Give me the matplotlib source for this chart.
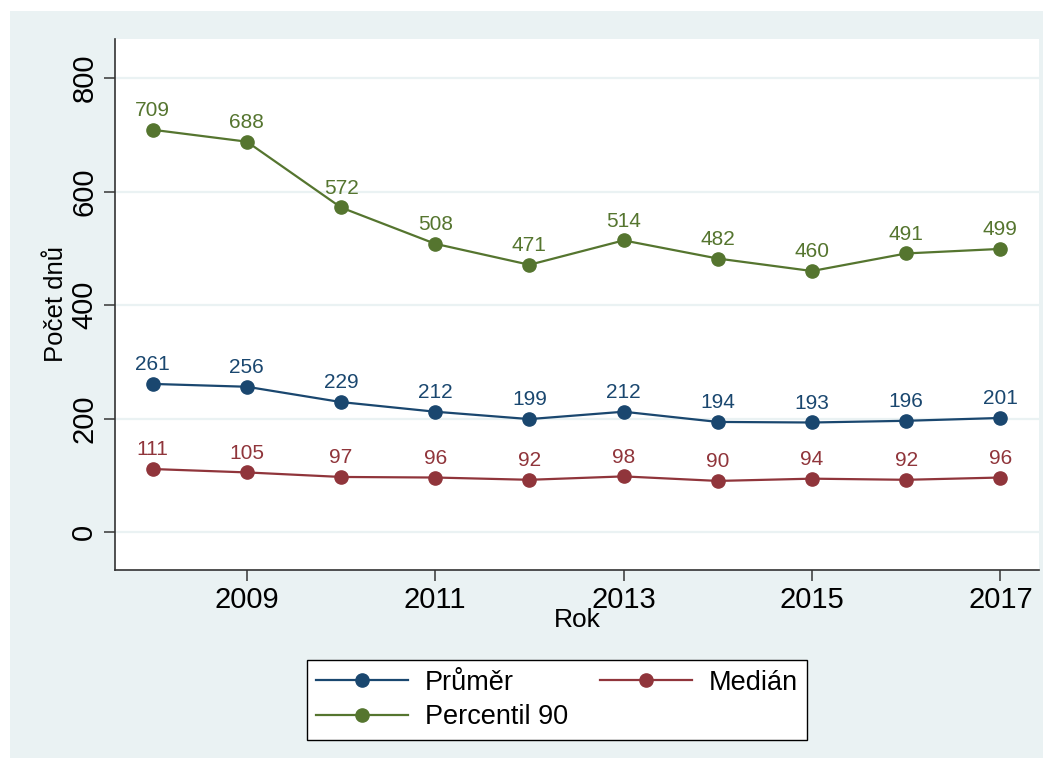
import matplotlib.pyplot as plt
from matplotlib.patches import Rectangle

# Data
years = [2008, 2009, 2010, 2011, 2012, 2013, 2014, 2015, 2016, 2017]
prumer = [261, 256, 229, 212, 199, 212, 194, 193, 196, 201]
median = [111, 105, 97, 96, 92, 98, 90, 94, 92, 96]
percentil90 = [709, 688, 572, 508, 471, 514, 482, 460, 491, 499]

series_names = ["Průměr", "Medián", "Percentil 90"]
y_ticks = [0, 200, 400, 600, 800]
x_ticks = [2009, 2011, 2013, 2015, 2017]

# Stata s2color-like styling
BG = "#eaf2f3"
COLORS = ["#1a476f", "#90353b", "#55752f"]

plt.rcParams["font.family"] = ["Liberation Sans", "DejaVu Sans"]

W, H = 1053, 769
fig = plt.figure(figsize=(W / 100, H / 100), dpi=100)
fig.patch.set_facecolor("white")
fig.patches.append(
    Rectangle((10 / W, 11 / H), 1033 / W, 747 / H, transform=fig.transFigure,
              facecolor=BG, edgecolor="none", zorder=-10)
)

ax = fig.add_axes([115 / W, 1 - 570 / H, 924 / W, 531 / H])
ax.set_facecolor("white")

lines = []
for name, vals, col in zip(series_names, [prumer, median, percentil90], COLORS):
    (ln,) = ax.plot(years, vals, color=col, lw=1.6, marker="o", markersize=9.5,
                    label=name, zorder=3)
    lines.append(ln)
    for x, v in zip(years, vals):
        ax.annotate(str(v), (x, v), xytext=(0, 7), textcoords="offset points",
                    ha="center", va="bottom", fontsize=15, color=col)

ax.set_xlim(2007.6, 2017.41)
ax.set_ylim(-67, 869)
ax.set_xticks(x_ticks)
ax.set_yticks(y_ticks)
ax.set_yticklabels([str(t) for t in y_ticks], rotation=90, va="center")
ax.tick_params(axis="both", labelsize=21, length=8, width=1.2, color="#444444",
               direction="out")
ax.tick_params(axis="y", pad=4)
ax.grid(axis="y", color=BG, lw=1.6)
ax.set_axisbelow(True)

for side in ["top", "right"]:
    ax.spines[side].set_visible(False)
for side in ["left", "bottom"]:
    ax.spines[side].set_color("#333333")
    ax.spines[side].set_linewidth(1.2)

ax.set_xlabel("Rok", fontsize=19, labelpad=-4)
ax.set_ylabel("Počet dnů", fontsize=18.5, labelpad=2)

# row-major order: Průměr, Medián / Percentil 90
handles = [lines[0], lines[2], lines[1]]
leg = fig.legend(handles, [h.get_label() for h in handles], ncol=2,
                 loc="center", bbox_to_anchor=(557 / W, 1 - 700 / H),
                 fontsize=19.5, frameon=True, fancybox=False, framealpha=1,
                 edgecolor="black", handlelength=3.4, columnspacing=1.2,
                 labelspacing=0.3, borderpad=0.35, handletextpad=0.6,
                 borderaxespad=0)
leg.get_frame().set_linewidth(1.0)

fig.savefig("out.png", dpi=100)
